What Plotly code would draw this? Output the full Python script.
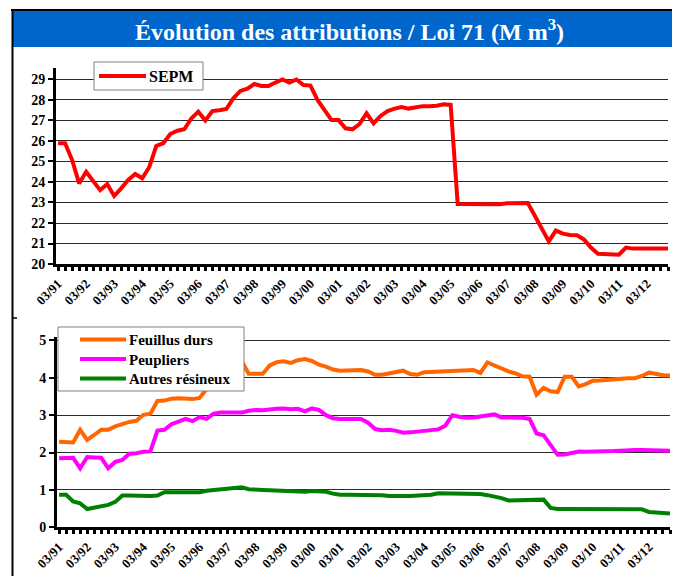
import plotly.graph_objects as go

# ---------------- data ----------------
tick_labels = ["03/91", "03/92", "03/93", "03/94", "03/95", "03/96", "03/97", "03/98",
               "03/99", "03/00", "03/01", "03/02", "03/03", "03/04", "03/05", "03/06",
               "03/07", "03/08", "03/09", "03/10", "03/11", "03/12"]

# quarterly observations, 03/91 ... 12/12
sepm = [25.89, 25.89, 25.07, 23.93, 24.5, 24.07, 23.6, 23.9, 23.32, 23.69,
        24.1, 24.39, 24.18, 24.72, 25.76, 25.89, 26.34, 26.5, 26.57, 27.1,
        27.43, 27.0, 27.46, 27.5, 27.56, 28.08, 28.44, 28.55, 28.78, 28.68,
        28.68, 28.85, 29.0, 28.85, 29.0, 28.73, 28.7, 28.0, 27.5, 27.02,
        27.02, 26.62, 26.57, 26.83, 27.35, 26.86, 27.22, 27.46, 27.58, 27.66,
        27.58, 27.63, 27.7, 27.7, 27.72, 27.79, 27.76, 22.93, 22.93, 22.93,
        22.93, 22.93, 22.91, 22.91, 22.96, 22.96, 22.96, 22.97, 22.35, 21.75,
        21.1, 21.63, 21.48, 21.42, 21.4, 21.2, 20.8, 20.5, 20.48, 20.46,
        20.45, 20.8, 20.75, 20.75, 20.75, 20.75, 20.75, 20.75]

feuillus_durs = [2.29, 2.29, 2.27, 2.61, 2.34, 2.47, 2.61, 2.61, 2.7, 2.76,
                 2.82, 2.85, 3.01, 3.04, 3.38, 3.39, 3.44, 3.45, 3.45, 3.43,
                 3.46, 3.7, 4.0, 4.2, 4.3, 4.35, 4.45, 4.11, 4.11, 4.11,
                 4.33, 4.42, 4.44, 4.4, 4.47, 4.5, 4.45, 4.35, 4.3, 4.22,
                 4.19, 4.19, 4.2, 4.21, 4.17, 4.08, 4.08, 4.12, 4.15, 4.19,
                 4.1, 4.08, 4.15, 4.16, 4.18, 4.19, 4.19, 4.21, 4.21, 4.21,
                 4.13, 4.41, 4.33, 4.25, 4.17, 4.12, 4.04, 4.03, 3.55, 3.73,
                 3.64, 3.62, 4.03, 4.03, 3.77, 3.83, 3.92, 3.93, 3.95, 3.96,
                 3.99, 3.99, 3.99, 4.05, 4.14, 4.1, 4.07, 4.06]

peupliers = [1.85, 1.85, 1.86, 1.58, 1.88, 1.87, 1.86, 1.58, 1.75, 1.8,
             1.97, 1.98, 2.02, 2.03, 2.59, 2.61, 2.76, 2.83, 2.9, 2.84,
             2.95, 2.9, 3.04, 3.07, 3.07, 3.07, 3.07, 3.12, 3.14, 3.13,
             3.16, 3.17, 3.18, 3.16, 3.17, 3.1, 3.18, 3.14, 3.0, 2.92,
             2.9, 2.9, 2.89, 2.9, 2.8, 2.63, 2.6, 2.61, 2.58, 2.53,
             2.54, 2.57, 2.58, 2.6, 2.62, 2.72, 3.0, 2.96, 2.93, 2.94,
             2.96, 2.98, 3.02, 2.94, 2.94, 2.94, 2.93, 2.9, 2.51, 2.46,
             2.2, 1.94, 1.95, 1.98, 2.03, 2.02, 2.02, 2.03, 2.03, 2.04,
             2.05, 2.07, 2.07, 2.07, 2.07, 2.07, 2.06, 2.05]

autres_resineux = [0.87, 0.87, 0.69, 0.64, 0.49, 0.53, 0.57, 0.6, 0.68, 0.85,
                   0.85, 0.84, 0.84, 0.84, 0.85, 0.94, 0.94, 0.94, 0.94, 0.94,
                   0.94, 0.98, 1.0, 1.03, 1.03, 1.05, 1.07, 1.02, 1.0, 1.0,
                   0.99, 0.98, 0.97, 0.96, 0.95, 0.95, 0.97, 0.97, 0.95, 0.9,
                   0.87, 0.87, 0.87, 0.87, 0.87, 0.85, 0.86, 0.84, 0.83, 0.84,
                   0.84, 0.85, 0.85, 0.87, 0.91, 0.91, 0.9, 0.9, 0.89, 0.89,
                   0.89, 0.86, 0.83, 0.78, 0.72, 0.72, 0.72, 0.73, 0.74, 0.74,
                   0.52, 0.49, 0.49, 0.49, 0.49, 0.49, 0.48, 0.48, 0.48, 0.48,
                   0.48, 0.48, 0.49, 0.48, 0.41, 0.39, 0.38, 0.37]

top_names = ["SEPM"]
top_colors = ["#FF0000"]
bottom_names = ["Feuillus durs", "Peupliers", "Autres résineux"]
bottom_colors = ["#FF6600", "#FF00FF", "#008000"]

quarters = list(range(len(sepm)))
tick_pos = [4 * i for i in range(len(tick_labels))]

# ---------------- figure ----------------
# page body has an 8px margin: the figure is placed at (8, 8) in the window
OFF = 8
W, H = 680 - OFF, 576 - OFF
def px(x): return (x - OFF) / W
def py(y): return 1 - (y - OFF) / H

FONT = "Liberation Serif"

fig = go.Figure()
fig.add_trace(go.Scatter(x=quarters, y=sepm, mode="lines", name=top_names[0],
                         line=dict(color=top_colors[0], width=4), xaxis="x", yaxis="y",
                         showlegend=False))
for name, color, vals in zip(bottom_names, bottom_colors,
                             [feuillus_durs, peupliers, autres_resineux]):
    fig.add_trace(go.Scatter(x=quarters, y=vals, mode="lines", name=name,
                             line=dict(color=color, width=4), xaxis="x2", yaxis="y2",
                             showlegend=False))

xcommon = dict(
    showline=True, linecolor="black", linewidth=3, mirror=False, automargin=False,
    tickmode="array", tickvals=tick_pos, ticktext=tick_labels,
    ticks="outside", ticklen=4, tickwidth=3, tickcolor="black",
    minor=dict(tickmode="linear", tick0=0, dtick=1, ticks="outside", ticklen=4,
               tickwidth=3, tickcolor="black", showgrid=False),
    tickangle=-45, tickfont=dict(family=FONT, size=13, color="black", weight="bold"),
    showgrid=False, zeroline=False, fixedrange=True,
)
ycommon = dict(
    showline=True, linecolor="black", linewidth=3, automargin=False,
    ticks="outside", ticklen=5, tickwidth=2, tickcolor="black",
    tickfont=dict(family=FONT, size=14, color="black", weight="bold"),
    showgrid=True, gridcolor="#2a2a2a", gridwidth=1, zeroline=False, fixedrange=True,
)

fig.update_layout(
    width=W, height=H, margin=dict(l=0, r=0, t=0, b=0, pad=0), autosize=False,
    paper_bgcolor="white", plot_bgcolor="rgba(0,0,0,0)",
    xaxis=dict(domain=[px(56), px(668)], range=[-0.3, 87.0], anchor="y", **xcommon),
    yaxis=dict(domain=[py(264), py(68)], range=[20, 29.56], anchor="x",
               tickvals=list(range(20, 30)), **ycommon),
    xaxis2=dict(domain=[px(57), px(670)], range=[-0.3, 87.0], anchor="y2", **xcommon),
    yaxis2=dict(domain=[py(527.3), py(336.7)], range=[0, 5.1], anchor="x2",
                tickvals=[0, 1, 2, 3, 4, 5], **ycommon),
    showlegend=False,
)

shapes = [
    # title band
    dict(type="rect", xref="paper", yref="paper", x0=px(13), x1=px(677), y0=py(47), y1=py(11),
         fillcolor="#0066CC", line=dict(width=0), layer="below"),
    # frame
    dict(type="line", xref="paper", yref="paper", x0=px(11), x1=px(679), y0=py(10), y1=py(10),
         line=dict(color="black", width=2)),
    dict(type="line", xref="paper", yref="paper", x0=px(12.5), x1=px(12.5), y0=py(10), y1=py(576),
         line=dict(color="black", width=2)),
    dict(type="line", xref="paper", yref="paper", x0=px(677.5), x1=px(677.5), y0=py(10), y1=py(576),
         line=dict(color="black", width=1.5)),
    dict(type="line", xref="paper", yref="paper", x0=px(12), x1=px(17), y0=py(318), y1=py(318),
         line=dict(color="black", width=1.5)),
    dict(type="line", xref="paper", yref="paper", x0=px(674), x1=px(680), y0=py(318), y1=py(318),
         line=dict(color="black", width=1.5)),
    # legend boxes
    dict(type="rect", xref="paper", yref="paper", x0=px(94), x1=px(203), y0=py(90), y1=py(62),
         fillcolor="white", line=dict(color="#808080", width=1)),
    dict(type="rect", xref="paper", yref="paper", x0=px(58), x1=px(244), y0=py(391), y1=py(327),
         fillcolor="white", line=dict(color="#808080", width=1)),
]

annotations = [
    dict(xref="paper", yref="paper", x=px(349), y=py(30), xanchor="center", yanchor="middle",
         text="Évolution des attributions / Loi 71 (M m<sup>3</sup>)", showarrow=False,
         font=dict(family=FONT, size=24, color="white", weight="bold")),
]

# top legend entry
shapes.append(dict(type="line", xref="paper", yref="paper", x0=px(99), x1=px(146),
                   y0=py(76), y1=py(76), line=dict(color=top_colors[0], width=4)))
annotations.append(dict(xref="paper", yref="paper", x=px(147), y=py(76.5), xanchor="left",
                        yanchor="middle", text=top_names[0], showarrow=False,
                        font=dict(family=FONT, size=16, color="black", weight="bold")))
# bottom legend entries
for i, (name, color) in enumerate(zip(bottom_names, bottom_colors)):
    yy = 339.5 + i * 19.5
    shapes.append(dict(type="line", xref="paper", yref="paper", x0=px(80), x1=px(126),
                       y0=py(yy), y1=py(yy), line=dict(color=color, width=4)))
    annotations.append(dict(xref="paper", yref="paper", x=px(127), y=py(yy + 0.5), xanchor="left",
                            yanchor="middle", text=name, showarrow=False,
                            font=dict(family=FONT, size=15, color="black", weight="bold")))

fig.update_layout(shapes=shapes, annotations=annotations)

fig.write_html("out.html")
